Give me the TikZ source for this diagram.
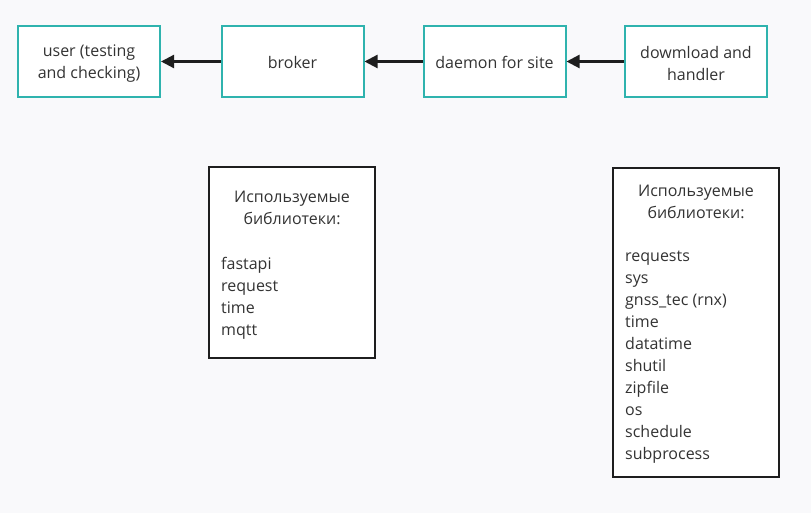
\documentclass[tikz,border=0pt]{standalone}
\usepackage{fontspec}
\setmainfont{Open Sans}
\usetikzlibrary{arrows.meta}
\definecolor{bg}{HTML}{F9F9FB}
\definecolor{teal}{HTML}{2FB3AE}
\definecolor{txt}{HTML}{333333}
\definecolor{edge}{HTML}{1E1E1E}
\tikzset{
  flowbox/.style={draw=teal, line width=2pt, fill=white, minimum width=142pt, minimum height=71pt, inner sep=0pt},
  flowtext/.style={align=center, text=txt, inner sep=0pt, font=\fontsize{16}{22}\selectfont},
  libbox/.style={draw=edge, line width=2pt, fill=white, inner sep=0pt},
  libtext/.style={text=txt, font=\fontsize{16}{22}\selectfont, inner sep=0pt},
  flowarrow/.style={draw=edge, line width=2.2pt, -{Triangle[length=13pt,width=13pt]}},
}
\begin{document}
\begin{tikzpicture}[x=1pt,y=-1pt]
\fill[bg] (0,0) rectangle (811,513);
\useasboundingbox (0,0) rectangle (811,513);
\node[flowbox] (user) at (89,61.5) {};
\node[flowbox] (broker) at (292.5,61.5) {};
\node[flowbox] (daemon) at (494.5,61.5) {};
\node[flowbox] (down) at (696,61.5) {};
\node[flowtext] (userT) at ([yshift=-1.8pt]user.center) {user (testing\\and checking)};
\node[flowtext] (brokerT) at ([yshift=-1pt]broker.center) {broker};
\node[flowtext] (daemonT) at ([yshift=-1pt]daemon.center) {daemon for site};
\node[flowtext] (downT) at ([yshift=-1.8pt]down.center) {dowmload and\\handler};
\draw[flowarrow] (broker) -- (user);
\draw[flowarrow] (daemon) -- (broker);
\draw[flowarrow] (down) -- (daemon);
\node[libbox, minimum width=166pt, minimum height=190pt] (libA) at (292,262.5) {};
\node[libtext, align=center, anchor=north] (libAt) at (292,191) {Используемые\\библиотеки:};
\node[libtext, align=left, anchor=north west] (libAl) at (221,257.5) {fastapi\\request\\time\\mqtt};
\node[libbox, minimum width=166pt, minimum height=309pt] (libB) at (696,322.5) {};
\node[libtext, align=center, anchor=north] (libBt) at (696,185) {Используемые\\библиотеки:};
\node[libtext, align=left, anchor=north west] (libBl) at (625,250.5) {requests\\sys\\gnss\_tec (rnx)\\time\\datatime\\shutil\\zipfile\\os\\schedule\\subprocess};
\end{tikzpicture}
\end{document}
